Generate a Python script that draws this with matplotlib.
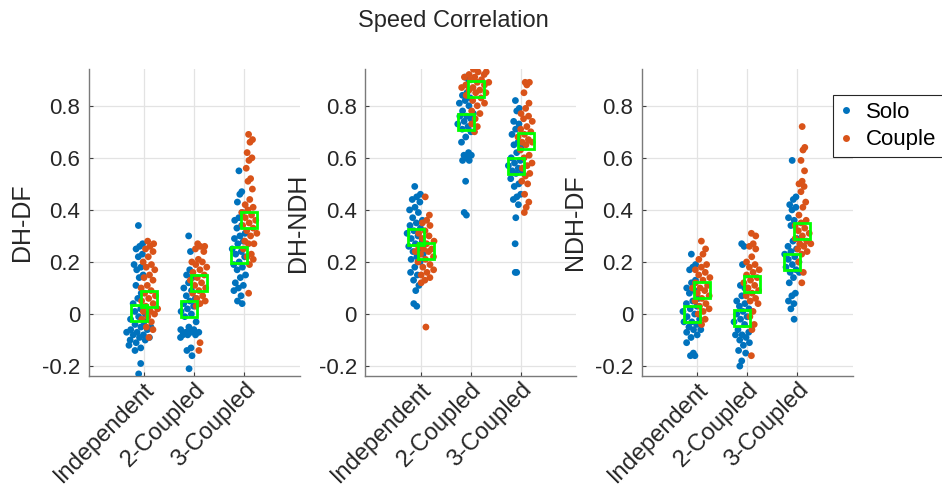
import numpy as np
import matplotlib
matplotlib.use("Agg")
import matplotlib.pyplot as plt
from matplotlib.lines import Line2D
from matplotlib.transforms import ScaledTranslation

plt.rcParams['font.family'] = ['Liberation Sans', 'DejaVu Sans']
plt.rcParams['axes.unicode_minus'] = False

title = "Speed Correlation"
categories = ["Independent", "2-Coupled", "3-Coupled"]
panel_labels = ["DH-DF", "DH-NDH", "NDH-DF"]
series_names = ["Solo", "Couple"]
ytick_vals = [-0.2, 0, 0.2, 0.4, 0.6, 0.8]
ytick_labels = ["-0.2", "0", "0.2", "0.4", "0.6", "0.8"]

# ---- DH-DF ----
dhdf_solo = [
    [0.34, 0.27, 0.26, 0.25, 0.23, 0.22, 0.19, 0.18, 0.17, 0.15, 0.14, 0.11, 0.08, 0.06, 0.04, 0.02, 0.01, 0.0,
     -0.01, -0.02, -0.03, -0.04, -0.05, -0.05, -0.06, -0.06, -0.07, -0.07, -0.08, -0.08, -0.09, -0.09, -0.10,
     -0.10, -0.11, -0.12, -0.13, -0.14, -0.19, -0.23],
    [0.30, 0.24, 0.17, 0.15, 0.14, 0.12, 0.10, 0.09, 0.07, 0.06, 0.05, 0.04, 0.03, 0.02, 0.01, 0.0, -0.01, -0.03,
     -0.05, -0.06, -0.06, -0.07, -0.07, -0.07, -0.08, -0.08, -0.08, -0.09, -0.13, -0.14, -0.16, -0.21],
    [0.55, 0.47, 0.46, 0.43, 0.39, 0.37, 0.36, 0.34, 0.33, 0.31, 0.30, 0.29, 0.28, 0.27, 0.25, 0.24, 0.23, 0.22,
     0.20, 0.19, 0.18, 0.17, 0.15, 0.14, 0.12, 0.11, 0.10, 0.09, 0.07, 0.05, 0.04],
]
dhdf_couple = [
    [0.28, 0.27, 0.26, 0.25, 0.24, 0.22, 0.20, 0.19, 0.18, 0.17, 0.15, 0.14, 0.13, 0.11, 0.10, 0.09, 0.08, 0.07,
     0.06, 0.05, 0.04, 0.03, 0.02, 0.01, 0.01, 0.0, -0.01, -0.02, -0.03, -0.05, -0.06, -0.09],
    [0.27, 0.26, 0.26, 0.25, 0.24, 0.21, 0.20, 0.20, 0.19, 0.18, 0.17, 0.16, 0.15, 0.14, 0.13, 0.12, 0.11, 0.10,
     0.09, 0.08, 0.07, 0.06, 0.05, 0.04, 0.03, -0.11, -0.14],
    [0.69, 0.67, 0.66, 0.62, 0.60, 0.59, 0.56, 0.52, 0.51, 0.48, 0.44, 0.42, 0.41, 0.40, 0.39, 0.38, 0.37, 0.36,
     0.35, 0.34, 0.33, 0.32, 0.31, 0.30, 0.28, 0.27, 0.27, 0.25, 0.23, 0.22, 0.21, 0.19, 0.08],
]
dhdf_solo_mean = [0.005, 0.02, 0.228]
dhdf_couple_mean = [0.059, 0.12, 0.36]

# ---- DH-NDH ----
dhndh_solo = [
    [0.49, 0.46, 0.45, 0.44, 0.43, 0.41, 0.40, 0.39, 0.37, 0.36, 0.35, 0.34, 0.33, 0.32, 0.31, 0.30, 0.29, 0.28,
     0.27, 0.26, 0.25, 0.24, 0.23, 0.22, 0.21, 0.20, 0.18, 0.16, 0.15, 0.13, 0.11, 0.09, 0.04, 0.03],
    [0.91, 0.90, 0.85, 0.84, 0.83, 0.82, 0.81, 0.80, 0.78, 0.77, 0.76, 0.76, 0.75, 0.74, 0.73, 0.72, 0.71, 0.70,
     0.68, 0.66, 0.62, 0.61, 0.61, 0.60, 0.59, 0.59, 0.51, 0.39, 0.38],
    [0.82, 0.79, 0.78, 0.74, 0.73, 0.71, 0.69, 0.66, 0.65, 0.64, 0.62, 0.60, 0.59, 0.58, 0.57, 0.56, 0.55, 0.55,
     0.54, 0.52, 0.50, 0.49, 0.46, 0.45, 0.44, 0.42, 0.37, 0.27, 0.16, 0.16],
]
dhndh_couple = [
    [0.45, 0.38, 0.36, 0.35, 0.34, 0.32, 0.31, 0.30, 0.29, 0.28, 0.27, 0.26, 0.25, 0.25, 0.24, 0.24, 0.23, 0.22,
     0.21, 0.20, 0.19, 0.18, 0.17, 0.16, 0.15, 0.14, 0.13, 0.12, -0.05],
    [0.94, 0.93, 0.93, 0.92, 0.92, 0.91, 0.91, 0.90, 0.90, 0.89, 0.89, 0.88, 0.88, 0.87, 0.87, 0.86, 0.86, 0.85,
     0.85, 0.84, 0.83, 0.82, 0.81, 0.80, 0.78, 0.77, 0.75, 0.73, 0.72, 0.70],
    [0.89, 0.89, 0.88, 0.85, 0.81, 0.79, 0.77, 0.76, 0.75, 0.74, 0.72, 0.71, 0.70, 0.69, 0.68, 0.67, 0.66, 0.66,
     0.65, 0.63, 0.61, 0.60, 0.58, 0.57, 0.56, 0.54, 0.53, 0.51, 0.50, 0.46, 0.43, 0.41, 0.39],
]
dhndh_solo_mean = [0.295, 0.737, 0.567]
dhndh_couple_mean = [0.243, 0.865, 0.665]

# ---- NDH-DF ----
ndhdf_solo = [
    [0.23, 0.19, 0.18, 0.17, 0.13, 0.12, 0.10, 0.09, 0.08, 0.06, 0.05, 0.04, 0.03, 0.02, 0.01, 0.0, -0.01, -0.02,
     -0.03, -0.03, -0.04, -0.05, -0.06, -0.06, -0.07, -0.08, -0.09, -0.11, -0.15, -0.16, -0.16],
    [0.27, 0.26, 0.19, 0.11, 0.10, 0.07, 0.05, 0.04, 0.03, 0.02, 0.01, 0.0, -0.01, -0.02, -0.03, -0.04, -0.06,
     -0.07, -0.08, -0.08, -0.09, -0.10, -0.11, -0.12, -0.14, -0.15, -0.18, -0.20],
    [0.59, 0.45, 0.44, 0.42, 0.41, 0.40, 0.37, 0.36, 0.34, 0.29, 0.28, 0.26, 0.25, 0.24, 0.23, 0.22, 0.21, 0.20,
     0.19, 0.18, 0.17, 0.16, 0.16, 0.14, 0.12, 0.08, 0.07, 0.05, 0.04, 0.02, -0.02],
]
ndhdf_couple = [
    [0.28, 0.25, 0.23, 0.21, 0.19, 0.18, 0.17, 0.16, 0.15, 0.14, 0.13, 0.12, 0.11, 0.10, 0.10, 0.09, 0.08, 0.07,
     0.06, 0.05, 0.04, 0.03, 0.02, 0.01, 0.0, -0.02, -0.04],
    [0.31, 0.30, 0.27, 0.26, 0.25, 0.22, 0.20, 0.19, 0.18, 0.17, 0.16, 0.15, 0.14, 0.13, 0.12, 0.11, 0.10, 0.09,
     0.08, 0.07, 0.06, 0.05, 0.04, 0.01, -0.01, -0.04, -0.06, -0.16],
    [0.72, 0.64, 0.63, 0.59, 0.55, 0.51, 0.50, 0.49, 0.47, 0.43, 0.41, 0.38, 0.36, 0.35, 0.34, 0.33, 0.32, 0.31,
     0.30, 0.29, 0.28, 0.27, 0.27, 0.26, 0.25, 0.24, 0.23, 0.20, 0.16, 0.12],
]
ndhdf_solo_mean = [0.0, -0.017, 0.20]
ndhdf_couple_mean = [0.094, 0.117, 0.32]

panels = [
    (dhdf_solo, dhdf_couple, dhdf_solo_mean, dhdf_couple_mean),
    (dhndh_solo, dhndh_couple, dhndh_solo_mean, dhndh_couple_mean),
    (ndhdf_solo, ndhdf_couple, ndhdf_solo_mean, ndhdf_couple_mean),
]

# ---- styling ----
c_solo = '#0072BD'
c_couple = '#D95319'
c_mean = '#00FF00'
offsets = [-0.1, 0.1]
bw = 0.04
max_half = 0.30


def density(v):
    v = np.asarray(v, float)
    return np.exp(-0.5 * ((v[:, None] - v[None, :]) / bw) ** 2).sum(1)


all_groups = [g for p in panels for s in p[:2] for g in s]
dmax = max(density(g).max() for g in all_groups)


def swarm_x(v, center):
    v = np.asarray(v, float)
    d = density(v) / dmax
    u = ((np.arange(len(v)) * 0.6180339887 + 0.37) % 1.0) * 2 - 1
    return center + u * max_half * d


fig = plt.figure(figsize=(9.42, 4.91), dpi=100)
lefts_px = [88.5, 365.3, 641.7]
ax_w = 211 / 942
ax_b = (491 - 376) / 491
ax_h = 306.7 / 491
xpos = np.arange(1, len(categories) + 1)
label_shift = ScaledTranslation(12 / 100, 1 / 100, fig.dpi_scale_trans)

for pi, (solo, couple, smean, cmean) in enumerate(panels):
    ax = fig.add_axes([lefts_px[pi] / 942, ax_b, ax_w, ax_h])
    for si, (series, col) in enumerate(((solo, c_solo), (couple, c_couple))):
        for ci, vals in enumerate(series):
            xs = swarm_x(vals, xpos[ci] + offsets[si])
            ax.scatter(xs, vals, s=24, color=col, edgecolors='none', zorder=3)
    for si, means in enumerate((smean, cmean)):
        ax.plot(xpos + offsets[si], means, linestyle='none', marker='s', markersize=11.5,
                markerfacecolor='none', markeredgecolor=c_mean, markeredgewidth=2.0, zorder=4)
    ax.set_xlim(-0.1, 4.1)
    ax.set_ylim(-0.238, 0.94)
    ax.set_xticks(xpos)
    ax.set_xticklabels(categories, rotation=45, ha='right', va='top', rotation_mode='anchor',
                       fontsize=17, color='#262626')
    for lab in ax.get_xticklabels():
        lab.set_transform(lab.get_transform() + label_shift)
    ax.set_yticks(ytick_vals)
    ax.set_yticklabels(ytick_labels, fontsize=16, color='#262626')
    ax.tick_params(direction='in', length=3, width=0.8, color='#404040')
    ax.tick_params(axis='y', pad=6)
    ax.tick_params(axis='x', pad=2)
    ax.grid(True, color='#e3e3e3', linewidth=0.9, zorder=0)
    ax.set_axisbelow(True)
    for side in ('top', 'right'):
        ax.spines[side].set_visible(False)
    for side in ('left', 'bottom'):
        ax.spines[side].set_color('#7a7a7a')
        ax.spines[side].set_linewidth(1.0)
    ax.set_ylabel(panel_labels[pi], fontsize=18, color='#262626')
    ax.yaxis.set_label_coords(-0.26, 0.5)

fig.text(453 / 942, 1 - 21 / 491, title, ha='center', va='center', fontsize=17, color='#262626')

handles = [Line2D([], [], linestyle='none', marker='o', markersize=5, color=c, markeredgecolor='none')
           for c in (c_solo, c_couple)]
leg = fig.legend(handles, series_names, loc='upper left', bbox_to_anchor=(833 / 942, 1 - 95 / 491),
                 fontsize=16, frameon=True, fancybox=False, edgecolor='#262626', framealpha=1,
                 handlelength=0.6, handletextpad=0.6, borderpad=0.3, labelspacing=0.3, borderaxespad=0)
leg.get_frame().set_linewidth(0.8)

fig.savefig('out.png', dpi=100)
